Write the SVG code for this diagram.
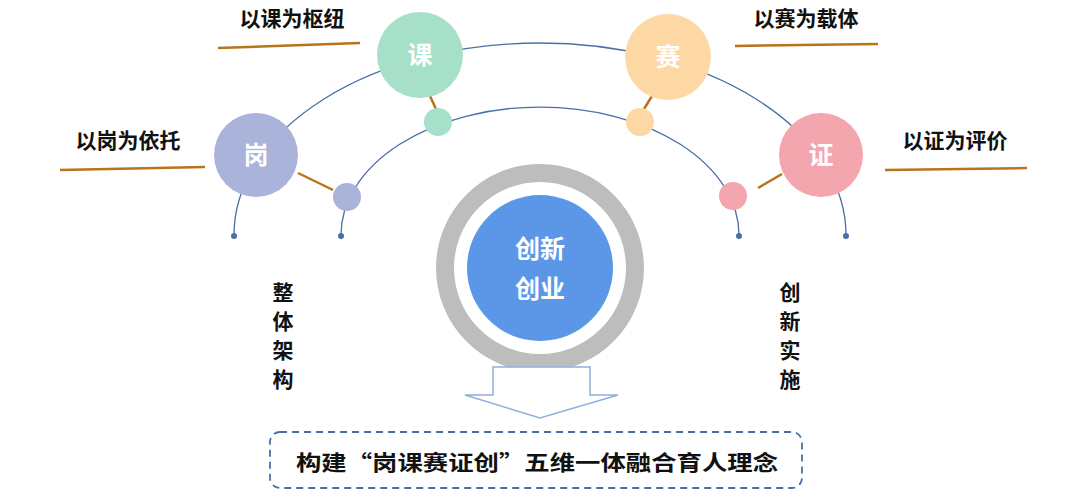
<svg xmlns="http://www.w3.org/2000/svg" width="1069" height="497" viewBox="0 0 1069 497">
<style>
.arc{fill:none;stroke:#4a6fa8;stroke-width:1.3}
.br{stroke:#b8741a;stroke-width:2.5}
.lbl{font-family:"Noto Sans CJK SC",sans-serif;font-weight:bold;font-size:21px;fill:#111}
.big{font-family:"Noto Sans CJK SC",sans-serif;font-weight:bold;font-size:25px;fill:#fff;text-anchor:middle}
.dot{fill:#4a6fa8}
</style>
<rect width="1069" height="497" fill="#fff"/>
<g id="connectors">
<path class="arc" d="M234,235 A306,192 0 0 1 846,235"/>
<path class="arc" d="M341,235 A199,128 0 0 1 739,235"/>
<circle class="dot" cx="234" cy="236" r="3"/><circle class="dot" cx="846" cy="236" r="3"/>
<circle class="dot" cx="341" cy="236" r="3"/><circle class="dot" cx="739" cy="236" r="3"/>
<line class="br" x1="298" y1="173" x2="333" y2="190" stroke-width="1.8"/>
<line class="br" x1="430" y1="96" x2="436" y2="109" stroke-width="1.8"/>
<line class="br" x1="652" y1="96" x2="644" y2="109" stroke-width="1.8"/>
<line class="br" x1="758" y1="188" x2="782" y2="174" stroke-width="1.8"/>
<line class="br" x1="218" y1="48" x2="360" y2="43"/>
<line class="br" x1="735" y1="46" x2="878" y2="44"/>
<line class="br" x1="60" y1="170" x2="205" y2="167"/>
<line class="br" x1="885" y1="170" x2="1027" y2="168"/>
</g>
<g id="gang"><circle cx="256" cy="155" r="42" fill="#aab4da"/><text class="big" x="256" y="164">岗</text></g>
<g id="ke"><circle cx="420" cy="55" r="43" fill="#a6e0c8"/><text class="big" x="420" y="64">课</text></g>
<g id="sai"><circle cx="668" cy="57" r="43" fill="#fdd8a4"/><text class="big" x="668" y="66">赛</text></g>
<g id="zheng"><circle cx="821" cy="155" r="42" fill="#f3a6ae"/><text class="big" x="821" y="164">证</text></g>
<g id="small"><circle cx="347" cy="197" r="14" fill="#aab4da"/><circle cx="438" cy="122" r="14" fill="#a6e0c8"/><circle cx="640" cy="122" r="14" fill="#fdd8a4"/><circle cx="733" cy="196" r="14" fill="#f3a6ae"/></g>
<g id="labels">
<text class="lbl" x="292" y="26" text-anchor="middle">以课为枢纽</text>
<text class="lbl" x="806" y="26" text-anchor="middle">以赛为载体</text>
<text class="lbl" x="128" y="148" text-anchor="middle">以岗为依托</text>
<text class="lbl" x="955" y="148" text-anchor="middle">以证为评价</text>
<text class="lbl" x="283" y="300" text-anchor="middle"><tspan x="283">整</tspan><tspan x="283" dy="29">体</tspan><tspan x="283" dy="29">架</tspan><tspan x="283" dy="29">构</tspan></text>
<text class="lbl" x="790" y="300" text-anchor="middle"><tspan x="790">创</tspan><tspan x="790" dy="29">新</tspan><tspan x="790" dy="29">实</tspan><tspan x="790" dy="29">施</tspan></text>
</g>
<g id="center"><circle cx="540" cy="268" r="95" fill="none" stroke="#bdbdbd" stroke-width="18"/><circle cx="540" cy="268" r="73" fill="#5b97e6"/>
<text class="big" x="540" y="258" font-size="32">创新</text><text class="big" x="540" y="298" font-size="32">创业</text></g>
<g id="arrow"><path d="M493,367 H590 V395 H618 L540,418 L465,395 H493 Z" fill="#fff" stroke="#8fb0dc" stroke-width="1.5"/></g>
<g id="bottom"><rect x="270" y="432" width="532" height="56" rx="10" fill="#fff" stroke="#4a6fa8" stroke-width="1.8" stroke-dasharray="7,5"/>
<text class="lbl" x="537" y="470" text-anchor="middle" font-size="28" textLength="482" lengthAdjust="spacingAndGlyphs">构建“岗课赛证创”五维一体融合育人理念</text></g>
</svg>
